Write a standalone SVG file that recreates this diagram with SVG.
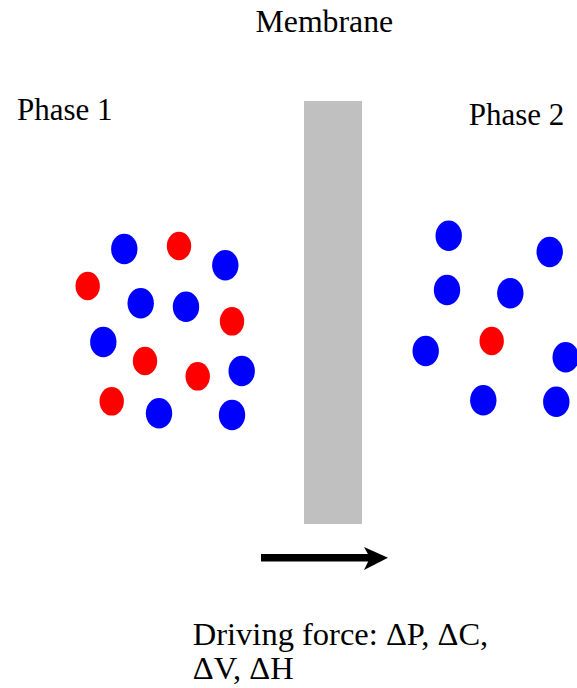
<svg xmlns="http://www.w3.org/2000/svg" width="577" height="688" viewBox="0 0 577 688">
<style>
.t{font-family:'Liberation Serif','Times New Roman',Times,serif;font-size:31px;fill:#000}
.big{font-size:32.5px}
.b{fill:#0000ff}
.r{fill:#ff0000}
</style>
<rect width="577" height="688" fill="#fff"/>
<g id="membrane">
<rect x="304" y="101" width="58" height="423" fill="#c0c0c0"/>
<text class="t" style="font-size:31.8px" x="255.5" y="32">Membrane</text>
</g>
<g id="phase1">
<text class="t" x="17" y="120">Phase 1</text>
<g class="particles">
<ellipse class="b" cx="124.3" cy="249" rx="13.2" ry="15.2"/>
<ellipse class="r" cx="179" cy="246" rx="12.2" ry="14.3"/>
<ellipse class="b" cx="225.3" cy="265.3" rx="13.2" ry="15.2"/>
<ellipse class="r" cx="87.7" cy="286" rx="12.2" ry="14.3"/>
<ellipse class="b" cx="140.7" cy="303.3" rx="13.2" ry="15.2"/>
<ellipse class="b" cx="186" cy="306.7" rx="13.2" ry="15.2"/>
<ellipse class="r" cx="232" cy="321.3" rx="12.2" ry="14.3"/>
<ellipse class="b" cx="103.3" cy="342" rx="13.2" ry="15.2"/>
<ellipse class="r" cx="145" cy="361" rx="12.2" ry="14.3"/>
<ellipse class="r" cx="197.7" cy="376.3" rx="12.2" ry="14.3"/>
<ellipse class="b" cx="241.7" cy="371" rx="13.2" ry="15.2"/>
<ellipse class="r" cx="111.7" cy="401.3" rx="12.2" ry="14.3"/>
<ellipse class="b" cx="159" cy="413.3" rx="13.2" ry="15.2"/>
<ellipse class="b" cx="232" cy="415" rx="13.2" ry="15.2"/>
</g>
</g>
<g id="phase2">
<text class="t" x="468.8" y="125">Phase 2</text>
<g class="particles">
<ellipse class="b" cx="448.7" cy="235.7" rx="13.2" ry="15.2"/>
<ellipse class="b" cx="549.7" cy="252" rx="13.2" ry="15.2"/>
<ellipse class="b" cx="447" cy="290" rx="13.2" ry="15.2"/>
<ellipse class="b" cx="510.3" cy="293.3" rx="13.2" ry="15.2"/>
<ellipse class="r" cx="491.7" cy="341" rx="12.2" ry="14.3"/>
<ellipse class="b" cx="425.7" cy="351" rx="13.2" ry="15.2"/>
<ellipse class="b" cx="565.7" cy="357.3" rx="13.2" ry="15.2"/>
<ellipse class="b" cx="483.3" cy="400.3" rx="13.2" ry="15.2"/>
<ellipse class="b" cx="556.3" cy="401.7" rx="13.2" ry="15.2"/>
</g>
</g>
<g id="connectors">
<rect x="261" y="554" width="110" height="7.5" fill="#000"/>
<path d="M364,547 L388,557.7 L364,570 L370,557.7 Z" fill="#000"/>
</g>
<g id="driving-force">
<text class="t big" x="192.8" y="644.5">Driving force: ΔP, ΔC,</text>
<text class="t big" x="192.8" y="678.5">ΔV, ΔH</text>
</g>
</svg>
